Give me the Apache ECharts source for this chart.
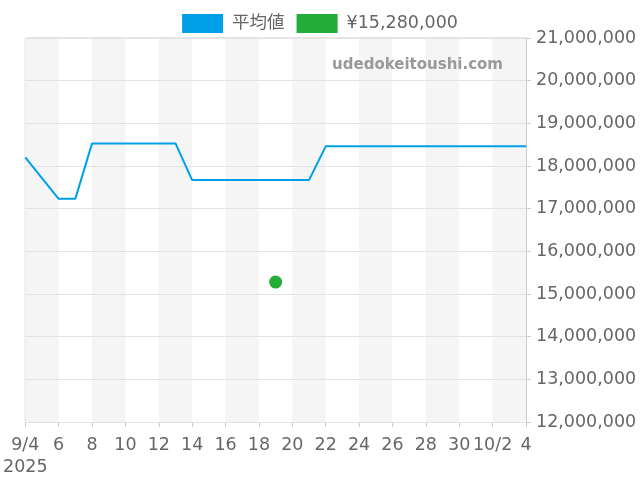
<!DOCTYPE html>
<html><head><meta charset="utf-8">
<script src="https://cdn.jsdelivr.net/npm/echarts@6/dist/echarts.min.js"></script>
<style>html,body{margin:0;padding:0;background:#fff}#c{width:640px;height:480px}</style>
</head><body><div id="c"></div>
<script>
const dates = ['9/4','9/5','9/6','9/7','9/8','9/9','9/10','9/11','9/12','9/13','9/14','9/15','9/16','9/17','9/18','9/19','9/20','9/21','9/22','9/23','9/24','9/25','9/26','9/27','9/28','9/29','9/30','10/1','10/2','10/3','10/4'];
const avgValues = [18200000,null,17230000,17230000,18530000,18530000,18530000,18530000,18530000,18530000,17670000,17670000,17670000,17670000,17670000,17670000,17670000,17670000,18460000,18460000,18460000,18460000,18460000,18460000,18460000,18460000,18460000,18460000,18460000,18460000,18460000];
const pointDate = '9/19';
const pointValue = 15280000;
const seriesNames = ['平均値','¥15,280,000'];
const yMin = 12000000, yMax = 21000000, yStep = 1000000;

const font = "'DejaVu Sans', 'Noto Sans CJK JP', sans-serif";
const fs = 17.5;
const chart = echarts.init(document.getElementById('c'));
chart.setOption({
  animation: false,
  textStyle: {fontFamily: font},
  legend: {
    top: 9, left: 'center',
    itemWidth: 41, itemHeight: 19, itemGap: 12,
    textStyle: {fontSize: fs, color: '#666', fontFamily: font, padding: [0, 0, 0, 4]},
    data: [{name: seriesNames[0], icon: 'rect'}, {name: seriesNames[1], icon: 'rect'}]
  },
  grid: {left: 25, right: 114, top: 38, bottom: 58, show: true, borderColor: '#ccc', borderWidth: 1},
  graphic: [{
    type: 'text', right: 137, top: 58, z: 100,
    style: {text: 'udedokeitoushi.com', fill: '#999', font: "bold 15px " + font}
  }],
  xAxis: {
    type: 'category', data: dates, boundaryGap: false, z: 0,
    axisLine: {lineStyle: {color: '#ccc'}},
    axisTick: {show: true, interval: 1, length: 5, lineStyle: {color: '#ccc'}},
    axisLabel: {
      interval: 1, fontSize: fs, color: '#666', margin: 12, fontFamily: font, lineHeight: 22,
      formatter: function (v, i) {
        if (i === 0) return v + '\n2025';
        if (v === '10/2') return v;
        return v.split('/')[1];
      }
    },
    splitLine: {show: false},
    splitArea: {show: true, interval: 1, areaStyle: {color: ['#f5f5f5', '#ffffff']}}
  },
  yAxis: {
    type: 'value', position: 'right', min: yMin, max: yMax, interval: yStep, z: 3,
    axisLine: {show: true, lineStyle: {color: '#ccc'}},
    axisTick: {show: true, length: 5, lineStyle: {color: '#ccc'}},
    axisLabel: {fontSize: fs, color: '#666', margin: 10, fontFamily: font,
      formatter: v => v.toLocaleString('en-US')},
    splitLine: {lineStyle: {color: '#e3e3e3'}}
  },
  series: [
    {name: seriesNames[0], type: 'line', data: avgValues, connectNulls: true, showSymbol: false, z: 5,
     symbol: 'none', lineStyle: {color: '#00a0e9', width: 2}, itemStyle: {color: '#00a0e9'}},
    {name: seriesNames[1], type: 'scatter', data: [[pointDate, pointValue]], symbolSize: 13, z: 6,
     itemStyle: {color: '#22ac38', opacity: 1}}
  ]
});
</script></body></html>
